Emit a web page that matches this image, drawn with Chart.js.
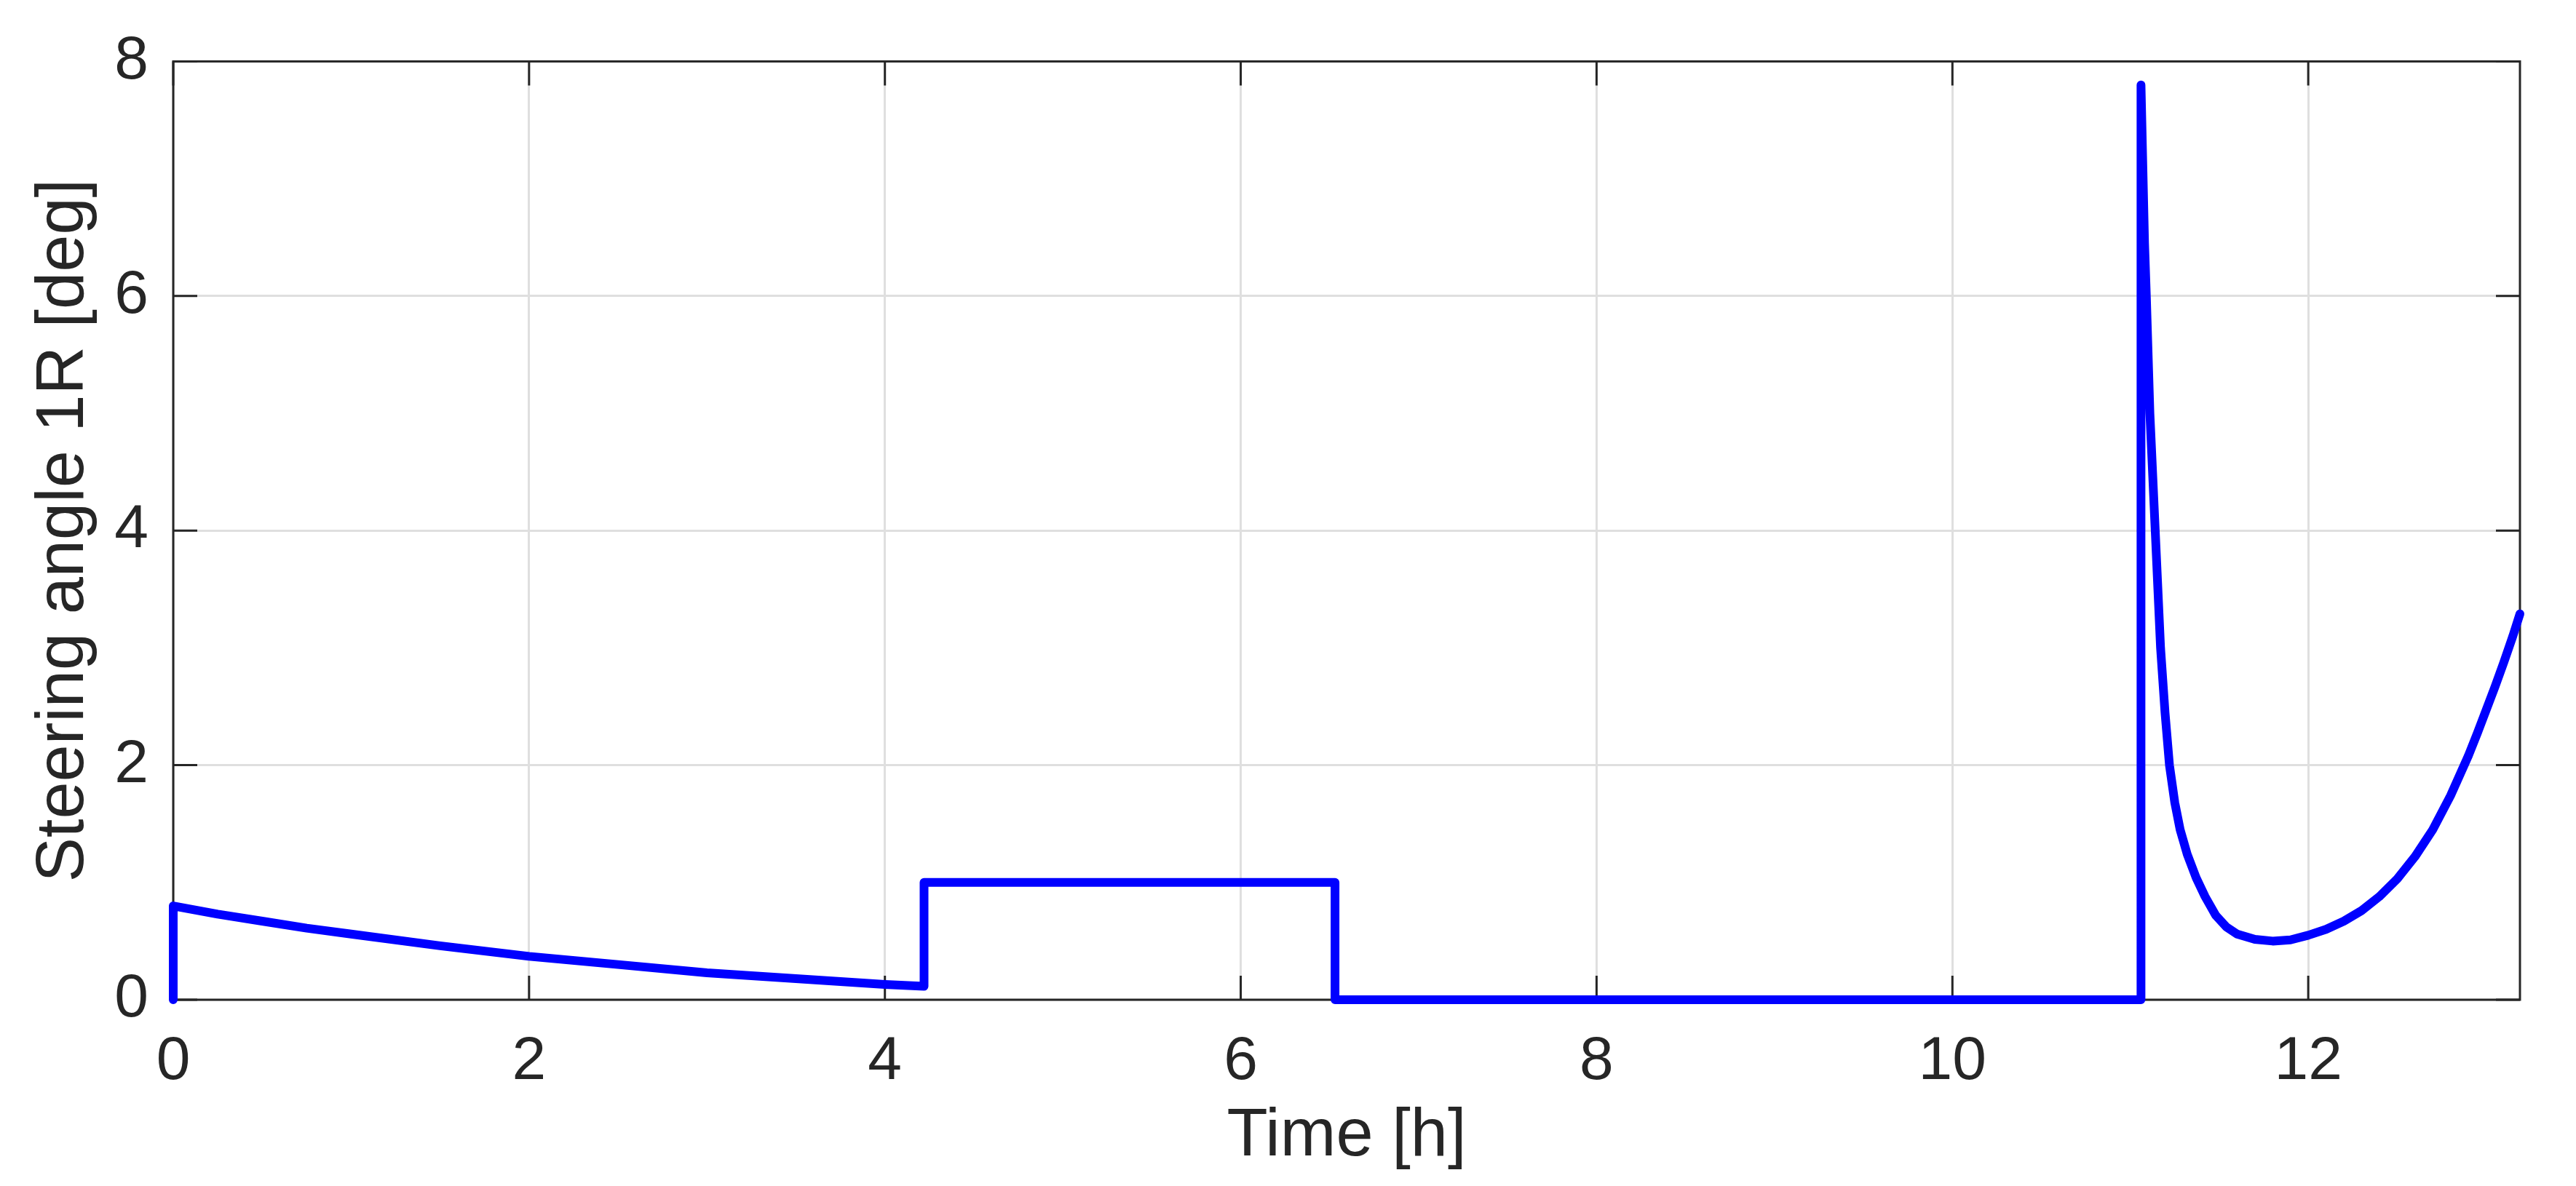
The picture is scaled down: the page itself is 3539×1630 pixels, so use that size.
<!DOCTYPE html>
<html>
<head>
<meta charset="utf-8">
<script src="https://cdn.jsdelivr.net/npm/chart.js@4/dist/chart.umd.min.js"></script>
<style>
  body { margin: 0; background: #fff; }
  #wrap { width: 3539px; height: 1630px; }
</style>
</head>
<body>
<div id="wrap"><canvas id="grafSteer" width="3539" height="1630"></canvas></div>
<script>
// valores (tempo em h, angulo em graus)
const timeH = [
  0, 0, 0.25, 0.5, 0.75, 1.0, 1.5, 2.0, 2.5, 3.0, 3.5, 4.0, 4.22,
  4.22, 6.53,
  6.53, 11.06,
  11.06, 11.08, 11.09, 11.11, 11.14, 11.17, 11.195, 11.22, 11.25, 11.28,
  11.32, 11.37, 11.42, 11.48, 11.54, 11.6, 11.7, 11.8, 11.9, 12.0, 12.1,
  12.2, 12.3, 12.4, 12.5, 12.6, 12.7, 12.8, 12.9, 12.95, 13.0, 13.05,
  13.1, 13.15, 13.19
];
const steerDeg = [
  0, 0.80, 0.73, 0.67, 0.61, 0.56, 0.46, 0.37, 0.30, 0.23, 0.18, 0.13, 0.115,
  1.0, 1.0,
  0, 0,
  7.80, 6.45, 6.0, 5.0, 4.0, 3.0, 2.45, 2.0, 1.68, 1.45,
  1.24, 1.04, 0.88, 0.72, 0.62, 0.56, 0.515, 0.50, 0.51, 0.55, 0.60,
  0.67, 0.76, 0.88, 1.03, 1.22, 1.45, 1.74, 2.08, 2.27, 2.47, 2.67,
  2.88, 3.10, 3.29
];
const xTicks = [0, 2, 4, 6, 8, 10, 12];
const yTicks = [0, 2, 4, 6, 8];

const textColor = '#262626';

// caixa e marcas de escala para dentro (estilo matlab)
const boxAndTicks = {
  id: 'boxAndTicks',
  beforeDatasetsDraw(chart) {
    const { ctx, chartArea: a, scales: { x, y } } = chart;
    const len = 33;
    ctx.save();
    ctx.strokeStyle = textColor;
    ctx.lineWidth = 3;
    ctx.beginPath();
    x.ticks.forEach(t => {
      const px = x.getPixelForValue(t.value);
      ctx.moveTo(px, a.bottom); ctx.lineTo(px, a.bottom - len);
      ctx.moveTo(px, a.top); ctx.lineTo(px, a.top + len);
    });
    y.ticks.forEach(t => {
      const py = y.getPixelForValue(t.value);
      ctx.moveTo(a.left, py); ctx.lineTo(a.left + len, py);
      ctx.moveTo(a.right, py); ctx.lineTo(a.right - len, py);
    });
    ctx.stroke();
    ctx.strokeRect(a.left, a.top, a.right - a.left, a.bottom - a.top);
    ctx.restore();
  }
};

const ctx = document.getElementById('grafSteer').getContext('2d');

const myChart = new Chart(ctx, {
  type: 'scatter',
  data: {
    datasets: [{
      label: 'Steering angle 1R',
      data: timeH.map((t, i) => ({ x: t, y: steerDeg[i] })),
      showLine: true,
      borderColor: '#0000ff',
      borderWidth: 12,
      borderJoinStyle: 'round',
      borderCapStyle: 'round',
      pointRadius: 0,
      tension: 0,
      clip: false
    }]
  },
  options: {
    responsive: false,
    animation: false,
    layout: { padding: { left: 0, top: 79, right: 77, bottom: 0 } },
    plugins: { legend: { display: false }, tooltip: { enabled: false } },
    scales: {
      x: {
        type: 'linear',
        min: 0,
        max: 13.19,
        afterBuildTicks: s => { s.ticks = xTicks.map(v => ({ value: v })); },
        afterFit: s => { s.height = 256; },
        grid: { color: '#dfdfdf', lineWidth: 3, drawTicks: false },
        border: { display: false },
        ticks: {
          color: textColor,
          padding: 35,
          maxRotation: 0,
          font: { family: 'Liberation Sans', size: 84 }
        },
        title: {
          display: true,
          text: 'Time [h]',
          color: textColor,
          padding: { top: 0, bottom: 12 },
          font: { family: 'Liberation Sans', size: 92 }
        }
      },
      y: {
        min: 0,
        max: 8,
        afterBuildTicks: s => { s.ticks = yTicks.map(v => ({ value: v })); },
        afterFit: s => { s.width = 238; },
        grid: { color: '#dfdfdf', lineWidth: 3, drawTicks: false },
        border: { display: false },
        ticks: {
          color: textColor,
          padding: 34,
          font: { family: 'Liberation Sans', size: 84 }
        },
        title: {
          display: true,
          text: 'Steering angle 1R [deg]',
          color: textColor,
          padding: { top: 33, bottom: 0 },
          font: { family: 'Liberation Sans', size: 92 }
        }
      }
    }
  },
  plugins: [boxAndTicks]
});
</script>
</body>
</html>
